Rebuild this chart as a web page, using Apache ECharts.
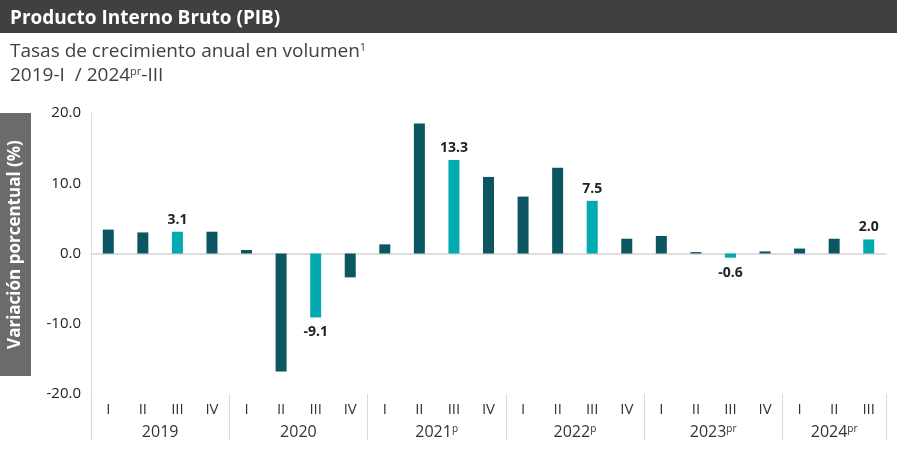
<!DOCTYPE html>
<html><head><meta charset="utf-8">
<script src="https://cdn.jsdelivr.net/npm/echarts@6/dist/echarts.min.js"></script>
<style>html,body{margin:0;padding:0;background:#fff}#c{width:897px;height:453px}</style>
</head><body><div id="c"></div>
<script>
const quarters = ['I','II','III','IV','I','II','III','IV','I','II','III','IV','I','II','III','IV','I','II','III','IV','I','II','III'];
const values = [3.4,3.0,3.1,3.1,0.5,-16.8,-9.1,-3.4,1.3,18.5,13.3,10.9,8.1,12.2,7.5,2.1,2.5,0.2,-0.6,0.3,0.7,2.1,2.0];
const years = ['2019','2020','2021','2022','2023','2024'];
const yearSup = ['','','p','p','pr','pr'];
const yearQuarterCounts = [4,4,4,4,4,3];
const yTicks = [-20,-10,0,10,20];
const titleText = 'Producto Interno Bruto (PIB)';
const subtitle1 = 'Tasas de crecimiento anual en volumen';
const yName = 'Variación porcentual (%)';

const DARK = '#0b5660', LIGHT = '#00aab0';
const bounds = [0]; yearQuarterCounts.forEach(c => bounds.push(bounds[bounds.length-1]+c));
const mids = yearQuarterCounts.map((c,i) => bounds[i] + c/2);

const chart = echarts.init(document.getElementById('c'), null, {renderer:'canvas'});
const FONT = 'Open Sans';
chart.setOption({
  animation:false,
  textStyle:{fontFamily:FONT},
  graphic:[
    {type:'rect', left:0, top:0, shape:{width:897, height:33}, style:{fill:'#404040'}, z:0},
    {type:'rect', left:0, top:113, shape:{width:31, height:263}, style:{fill:'#6b6b6b'}, z:0},
    {type:'text', x:15.5, y:244.5, rotation:Math.PI/2, style:{text:yName, fill:'#fff', font:'bold 17px "Open Sans"', align:'center', verticalAlign:'middle'}, z:1}
  ],
  title:[
    {text:titleText, left:5, top:4, textStyle:{color:'#fff', fontSize:19, fontWeight:'bold', fontFamily:FONT}},
    {text:subtitle1+'{sup|1}\n2019-I  / 2024{sup|pr}-III', left:5, top:35,
     textStyle:{color:'#404040', fontSize:19, fontWeight:'normal', lineHeight:24, fontFamily:FONT,
       rich:{sup:{fontSize:11, color:'#404040', padding:[0,0,8,0], fontFamily:FONT}}}}
  ],
  grid:{left:91, right:11, top:113, bottom:59, containLabel:false},
  xAxis:[
    {type:'category', data:quarters, position:'bottom',
     axisLine:{show:true, lineStyle:{color:'#bdbdbd', type:[5,4], width:1}},
     axisTick:{show:false},
     axisLabel:{color:'#333', fontSize:15, margin:8, interval:0}},
    {type:'value', min:0, max:quarters.length, position:'bottom',
     axisLine:{show:false},
     splitLine:{show:false},
     axisTick:{show:true, customValues:bounds, length:46, lineStyle:{color:'#d9d9d9'}},
     axisLabel:{customValues:mids, margin:30, color:'#333', fontSize:16,
       formatter:(v)=>{const i=mids.indexOf(v); return i<0?'':(yearSup[i]? years[i]+'{sup|'+yearSup[i]+'}' : years[i]);},
       rich:{sup:{fontSize:10, color:'#333', padding:[0,0,7,0]}}}}
  ],
  yAxis:{type:'value', min:-20, max:20, interval:10,
    axisLine:{show:true, lineStyle:{color:'#dcdcdc'}},
    axisTick:{show:false},
    splitLine:{show:false},
    axisLabel:{color:'#222', fontSize:15, margin:10, formatter:(v)=>v.toFixed(1)}},
  series:[{
    type:'bar', xAxisIndex:0, barWidth:11,
    data: values.map((v,i)=>({value:v,
      itemStyle:{color: quarters[i]==='III' ? LIGHT : DARK},
      label:{show: quarters[i]==='III', position: v<0?'bottom':'top', distance: v<0?8:5,
        formatter:(p)=>p.value.toFixed(1), fontWeight:'bold', fontSize:14, color:'#222'}})),
    markLine:{silent:true, symbol:'none', label:{show:false},
      lineStyle:{color:'#dedede', type:'solid', width:2}, data:[{yAxis:0}], z:1}
  }]
});
</script></body></html>
